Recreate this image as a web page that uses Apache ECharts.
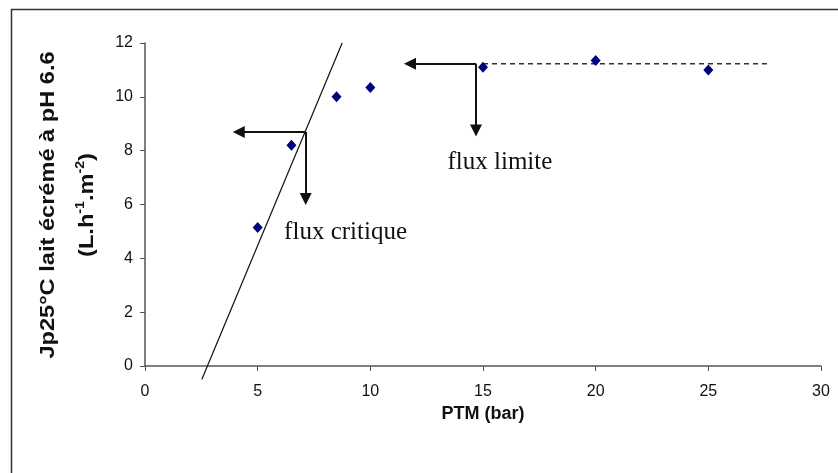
<!DOCTYPE html>
<html>
<head>
<meta charset="utf-8">
<script src="https://cdn.jsdelivr.net/npm/echarts@6/dist/echarts.min.js"></script>
<style>html,body{margin:0;padding:0;background:#fff}#c{width:838px;height:473px}</style>
</head>
<body>
<div id="c"></div>
<script>
// Data
var ptm = [5, 6.5, 8.5, 10, 15, 20, 25];
var flux = [5.15, 8.2, 10.0, 10.35, 11.1, 11.35, 11.0];
// Linear trend line (critical flux region)
var fitX = [2.52, 8.75];
var fitY = [-0.5, 12];
// Limiting flux plateau (dashed)
var plateauX = [15, 27.6];
var plateauY = [11.23, 11.23];
// Annotation arrows: corner point and arrow-head positions
var critCorner = [7.13, 8.69];
var critLeftHeadX = 4.16;
var critDownHeadY = 6.2;
var limCorner = [14.69, 11.23];
var limLeftHeadX = 11.76;
var limDownHeadY = 8.75;
var xTicks = [0, 5, 10, 15, 20, 25, 30];
var yTicks = [0, 2, 4, 6, 8, 10, 12];

var chart = echarts.init(document.getElementById('c'), null, {renderer: 'canvas'});

function arrow(from, to) {
  return [{coord: from}, {coord: to}];
}

var option = {
  backgroundColor: '#fff',
  animation: false,
  grid: {left: 145, right: 17, top: 43, bottom: 107},
  xAxis: {
    type: 'value', min: 0, max: 30, interval: 5,
    axisLine: {lineStyle: {color: '#555', width: 1.5}},
    axisTick: {show: true, length: 5, lineStyle: {color: '#555'}},
    axisLabel: {color: '#111', fontFamily: 'Liberation Sans, Arial', fontSize: 16, margin: 18},
    splitLine: {show: false},
    name: 'PTM (bar)', nameLocation: 'middle', nameGap: 36,
    nameTextStyle: {fontFamily: 'Liberation Sans, Arial', fontWeight: 'bold', fontSize: 18, color: '#111'}
  },
  yAxis: {
    type: 'value', min: 0, max: 12, interval: 2,
    axisLine: {show: true, lineStyle: {color: '#555', width: 1.5}},
    axisTick: {show: true, length: 5, lineStyle: {color: '#555'}},
    axisLabel: {color: '#111', fontFamily: 'Liberation Sans, Arial', fontSize: 16, margin: 12},
    splitLine: {show: false}
  },
  graphic: [
    {type: 'rect', shape: {x: 11.5, y: 9.5, width: 900, height: 600}, style: {fill: 'none', stroke: '#333', lineWidth: 1.5}, silent: true, z: -1},
    {
      type: 'text', x: 68, y: 205, rotation: Math.PI / 2, scaleX: 1.18,
      style: {
        text: 'Jp25°C lait écrémé à pH 6.6\n{n|(L.h}{s|-1}{n|.m}{s|-2}{n|)}',
        font: 'bold 20px "Liberation Sans", Arial',
        fill: '#111', align: 'center', verticalAlign: 'middle', lineHeight: 39,
        rich: {
          n: {fontFamily: 'Liberation Sans, Arial', fontWeight: 'bold', fontSize: 20, fill: '#111', lineHeight: 39},
          s: {fontFamily: 'Liberation Sans, Arial', fontWeight: 'bold', fontSize: 12, fill: '#111', padding: [0, 0, 14, 0], lineHeight: 39}
        }
      }
    }
  ],
  series: [
    {
      type: 'line', data: fitX.map(function (x, i) { return [x, fitY[i]]; }),
      symbol: 'none', clip: false, silent: true,
      lineStyle: {color: '#111', width: 1.2}
    },
    {
      type: 'line', data: plateauX.map(function (x, i) { return [x, plateauY[i]]; }),
      symbol: 'none', silent: true,
      lineStyle: {color: '#333', width: 1.5, type: [5, 4]}
    },
    {
      type: 'scatter', data: ptm.map(function (x, i) { return [x, flux[i]]; }),
      symbol: 'diamond', symbolSize: [10, 11],
      itemStyle: {color: '#00007f', opacity: 1}, z: 5
    },
    {
      type: 'line', data: [], silent: true,
      markLine: {
        silent: true, animation: false,
        symbol: ['none', 'triangle'],
        symbolSize: 12,
        lineStyle: {color: '#111', width: 2, type: 'solid'},
        itemStyle: {color: '#111'},
        label: {show: false},
        data: [
          arrow(critCorner, [critLeftHeadX, critCorner[1]]),
          arrow(critCorner, [critCorner[0], critDownHeadY]),
          arrow(limCorner, [limLeftHeadX, limCorner[1]]),
          arrow(limCorner, [limCorner[0], limDownHeadY])
        ]
      },
      markPoint: {
        silent: true, symbol: 'rect', symbolSize: 0,
        label: {show: true, position: 'inside', color: '#111', fontFamily: 'Liberation Serif, Times New Roman', fontSize: 25},
        data: [
          {coord: [8.9, 4.98], value: 'flux critique', label: {formatter: 'flux critique'}},
          {coord: [15.75, 7.56], value: 'flux limite', label: {formatter: 'flux limite'}}
        ]
      }
    }
  ]
};
chart.setOption(option);
</script>
</body>
</html>
